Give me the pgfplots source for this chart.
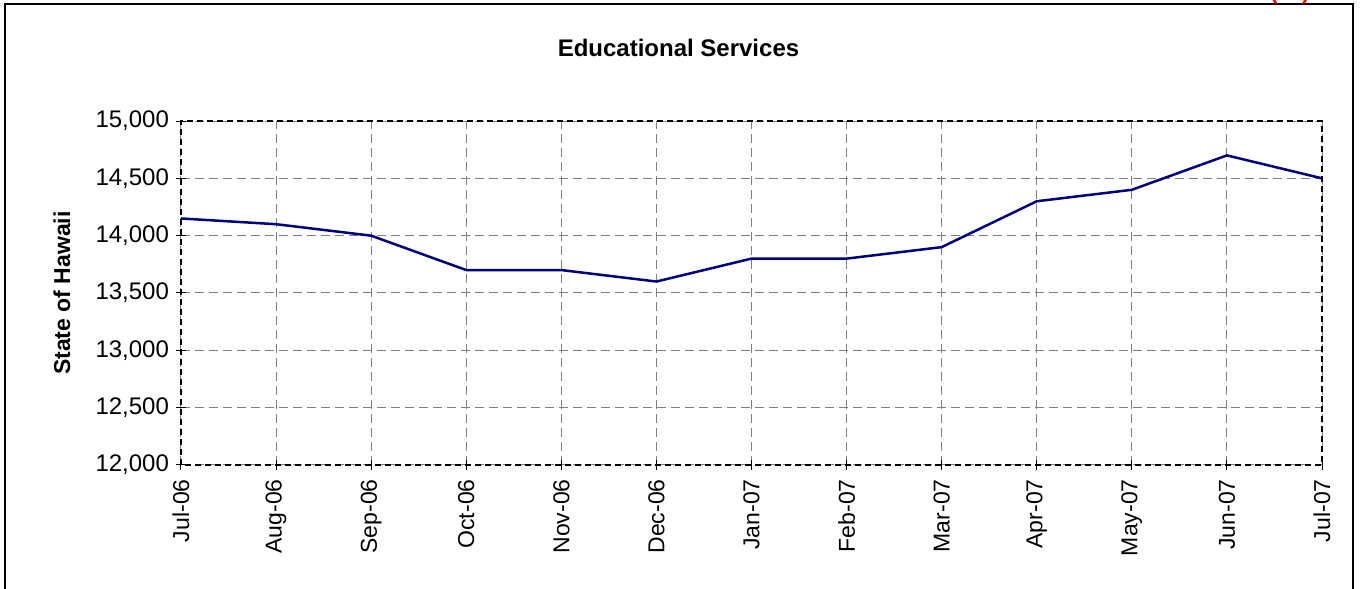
\documentclass[border=0pt]{standalone}
\usepackage{pgfplots}
\pgfplotsset{compat=1.18}
\usepackage{fontspec}
\setmainfont{Liberation Sans}
\begin{document}
\begin{tikzpicture}[x=1pt,y=1pt]
\useasboundingbox (0,0) rectangle (681,294.5);
% outer frame
\draw[line width=1pt] (2.5,-10) rectangle (676.5,292.5);
\node[anchor=base, text=red, font=\fontsize{11}{13}\bfseries\selectfont] at (645,294.5) {(12)};
\node[font=\fontsize{12}{14}\bfseries\selectfont] at (339.25,270.5) {Educational Services};
\begin{axis}[
  at={(90.5pt,62pt)}, anchor=south west,
  scale only axis,
  width=570.5pt, height=172pt,
  xmin=0, xmax=12, ymin=12000, ymax=15000,
  xtick={0,...,12},
  xticklabels={Jul-06,Aug-06,Sep-06,Oct-06,Nov-06,Dec-06,Jan-07,Feb-07,Mar-07,Apr-07,May-07,Jun-07,Jul-07},
  ytick={12000,12500,...,15000},
  x tick label style={rotate=90, anchor=east, font=\fontsize{11.5}{13}\selectfont, inner sep=4.5pt},
  y tick label style={font=\fontsize{12}{14}\selectfont},
  /pgf/number format/assume math mode=true,
  /pgf/number format/1000 sep={,},
  scaled y ticks=false,
  tick align=center,
  major tick length=5pt,
  tick style={black, line width=0.5pt},
  xtick pos=bottom, ytick pos=left,
  grid=major,
  major grid style={gray, line width=0.5pt, dash pattern=on 4.5pt off 2.5pt},
  axis line style={black, line width=1.4pt, dash pattern=on 3pt off 2pt},
  ylabel={State of Hawaii},
  every axis y label/.style={at={(rel axis cs:0,0.5)}, xshift=-59.5pt, rotate=90, anchor=center,
    font=\fontsize{11.5}{13}\bfseries\selectfont},
  clip=false,
]
\addplot[color={rgb,255:red,0;green,0;blue,128}, line width=1.25pt] coordinates {
  (0,14150) (1,14100) (2,14000) (3,13700) (4,13700) (5,13600) (6,13800)
  (7,13800) (8,13900) (9,14300) (10,14400) (11,14700) (12,14500)
};
\end{axis}
\end{tikzpicture}
\end{document}
